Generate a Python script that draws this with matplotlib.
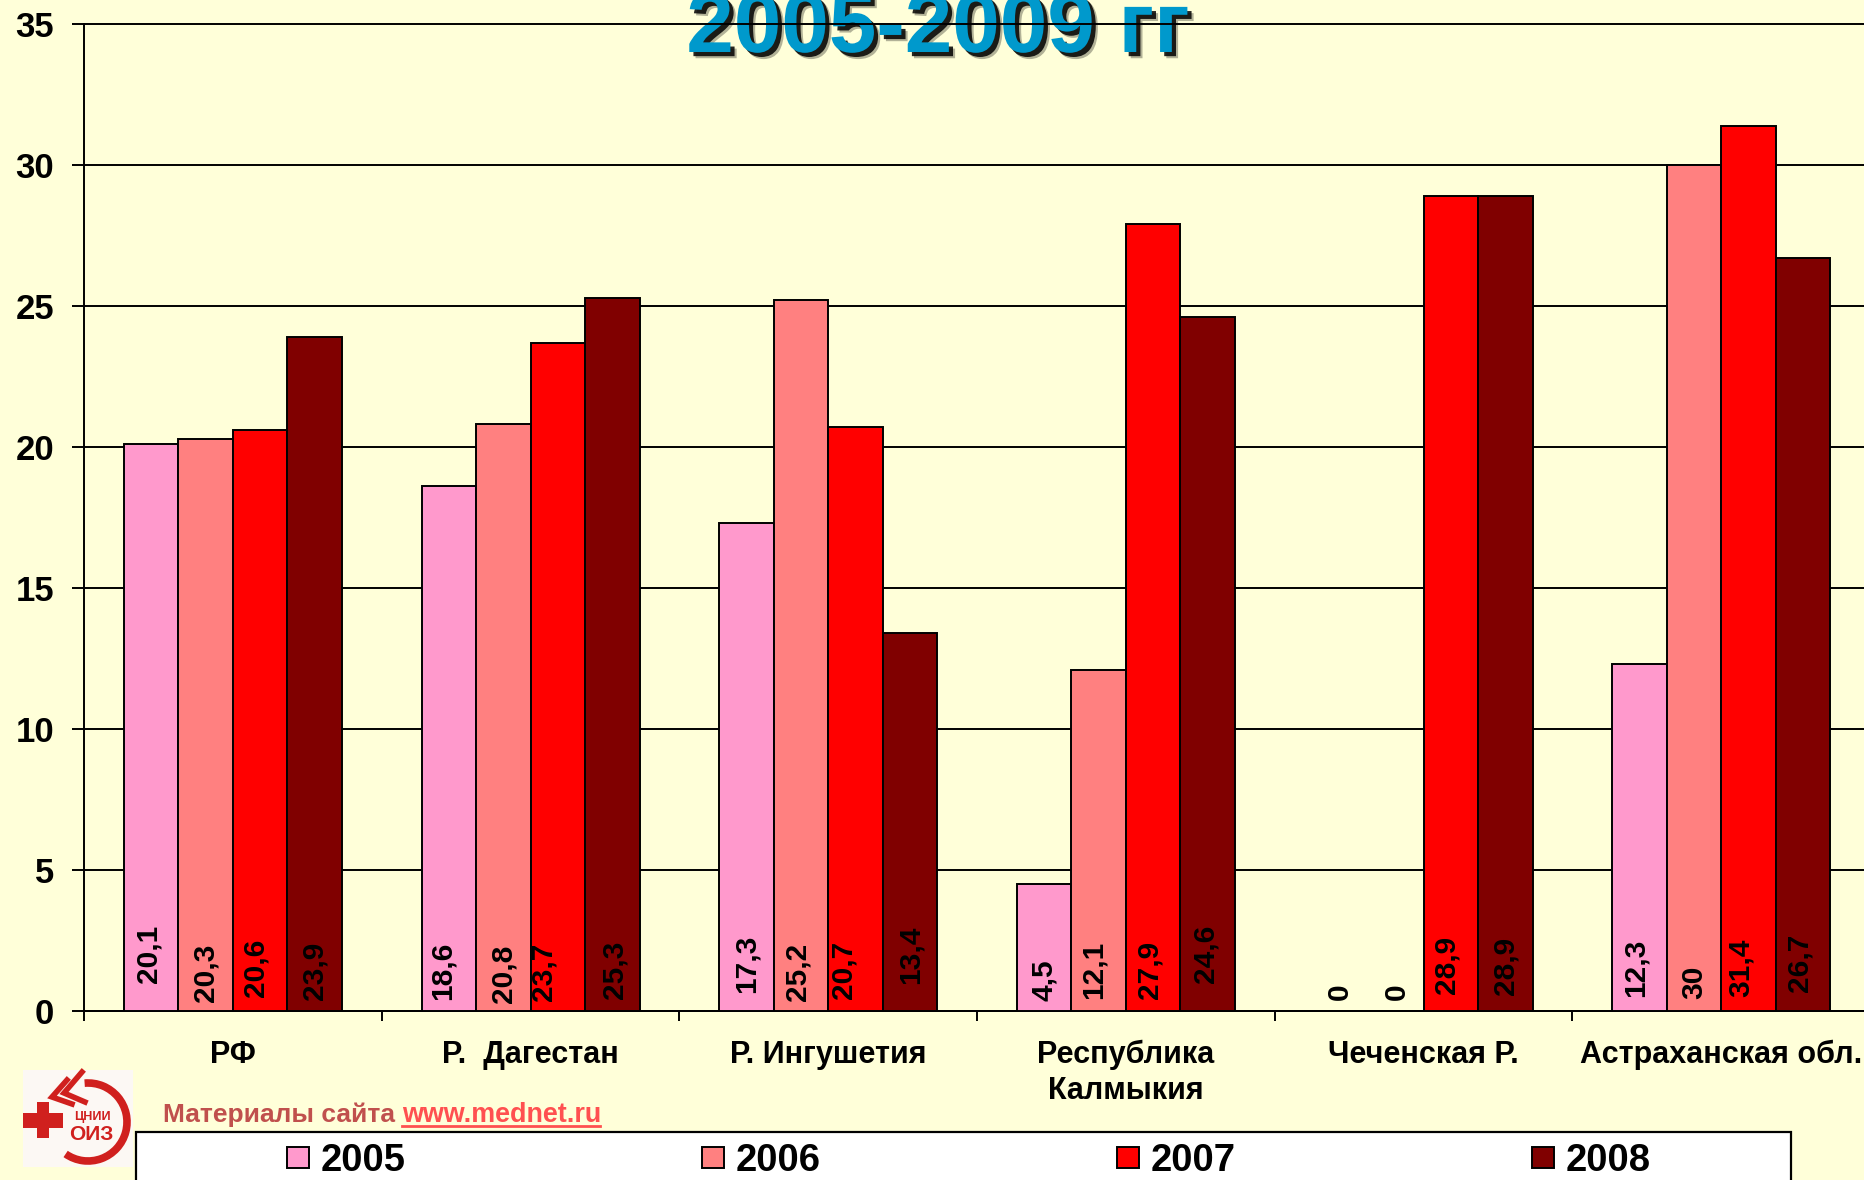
import matplotlib
matplotlib.use("Agg")
import matplotlib.pyplot as plt
import matplotlib.patheffects as pe
from matplotlib.patches import Arc, Rectangle
import numpy as np

plt.rcParams['font.family'] = ['Liberation Sans', 'DejaVu Sans']
plt.rcParams['font.weight'] = 'bold'

W, H = 1864, 1180
BG = '#FFFFD9'

categories = ['РФ', 'Р.  Дагестан', 'Р. Ингушетия', 'Республика\nКалмыкия', 'Чеченская Р.', 'Астраханская обл.']
years = ['2005', '2006', '2007', '2008']
v2005 = [20.1, 18.6, 17.3, 4.5, 0, 12.3]
v2006 = [20.3, 20.8, 25.2, 12.1, 0, 30]
v2007 = [20.6, 23.7, 20.7, 27.9, 28.9, 31.4]
v2008 = [23.9, 25.3, 13.4, 24.6, 28.9, 26.7]
colors = ['#FF99CC', '#FF8080', '#FF0000', '#800000']

# hand-moved data labels: pixel offset from bar centre / baseline
label_dx = [[-3, -6, 0, 0, -2, -4], [0, 0, -3, -5, 0, 0], [-5, -14, -12, -4, -4, -8], [0, 2, 1, -2, 0, -4]]
label_dy = [[28, 11, 18, 10, 11, 14], [9, 8, 10, 12, 11, 12], [14, 10, 12, 12, 17, 14], [11, 12, 27, 28, 16, 19]]

fig = plt.figure(figsize=(W / 100, H / 100), dpi=100, facecolor=BG)

# title sits under the top gridline
back = fig.add_axes([0, 0, 1, 1], zorder=-1)
back.set_xlim(0, W)
back.set_ylim(H, 0)
back.axis('off')
back.text(938, 52, '2005-2009 гг', ha='center', va='baseline', fontsize=61.5, color='#0099CC',
          path_effects=[pe.SimplePatchShadow(offset=(4.5, -4.5), shadow_rgbFace='k', alpha=0.3),
                        pe.SimplePatchShadow(offset=(3, -3), shadow_rgbFace='k', alpha=0.85),
                        pe.Normal()])

cat_w = 297.7
ax = fig.add_axes([84 / W, 1 - 1011 / H, 6 * cat_w / W, 987 / H], facecolor='none')
x = np.arange(6)
bar_w = 54.5 / cat_w
series = [v2005, v2006, v2007, v2008]
for i, vals in enumerate(series):
    pos = x + 0.5 + (i - 1.5) * bar_w
    ax.bar(pos, vals, bar_w, color=colors[i], edgecolor='black', linewidth=1.4, label=years[i], zorder=3)
    for j, v in enumerate(vals):
        ax.annotate(f"{v:g}".replace('.', ','), xy=(pos[j], 0), xytext=(label_dx[i][j], label_dy[i][j]),
                    textcoords='offset pixels', rotation=90, ha='center', va='bottom',
                    fontsize=21.5, color='black', zorder=4)

ax.set_xlim(0, 6)
ax.set_ylim(0, 35)
ax.set_yticks(range(0, 36, 5))
ax.grid(True, axis='y', color='black', linewidth=1.4, zorder=1)
for line in ax.get_ygridlines():
    line.set_clip_on(False)
ax.set_axisbelow(True)
ax.set_xticks(range(7))
ax.set_xticklabels([])
ax.set_xticks(x + 0.5, categories, minor=True, fontsize=22, linespacing=1.25)
ax.tick_params(axis='x', which='major', length=7, width=1.4)
ax.tick_params(axis='x', which='minor', length=0, pad=21)
ax.tick_params(axis='y', length=8.6, width=1.4, pad=13, labelsize=25)
for s in ['top', 'right']:
    ax.spines[s].set_visible(False)
for s in ['left', 'bottom']:
    ax.spines[s].set_linewidth(1.4)

# pixel-coordinate overlay for logo, site note and legend box
ov = fig.add_axes([0, 0, 1, 1], zorder=1)
ov.set_xlim(0, W)
ov.set_ylim(H, 0)
ov.axis('off')

RED = '#D0201E'
ov.add_patch(Rectangle((23, 1070), 110, 97, facecolor='#FCF8F4', edgecolor='none'))
ov.add_patch(Rectangle((23, 1113), 40, 15, facecolor=RED, edgecolor='none'))
ov.add_patch(Rectangle((37, 1102), 12, 36, facecolor=RED, edgecolor='none'))
ov.add_patch(Arc((88, 1122), 78, 78, theta1=-95, theta2=125, color=RED, linewidth=5.5))
ov.plot([82, 64, 85], [1072, 1093, 1102], color=RED, lw=4, solid_joinstyle='miter')
ov.plot([67, 52, 72], [1080, 1097, 1104], color=RED, lw=4, solid_joinstyle='miter')
ov.text(92, 1117, 'ЦНИИ', fontsize=9, color=RED, ha='center', va='center')
ov.text(91, 1134, 'ОИЗ', fontsize=15, color=RED, ha='center', va='center')

ov.text(163, 1122, 'Материалы сайта', fontsize=19, color='#C0504D', va='baseline')
ov.text(402, 1122, 'www.mednet.ru', fontsize=19.4, color='#FF5050', va='baseline')
ov.plot([402, 600], [1126, 1126], color='#FF5050', lw=2)

ov.add_patch(Rectangle((136, 1132), 1655, 60, facecolor='white', edgecolor='black', linewidth=1.6))

handles, labels = ax.get_legend_handles_labels()
fig.legend(handles, labels, loc='upper left', bbox_to_anchor=(287 / W, 1 - 1143 / H), ncols=4,
           frameon=False, borderaxespad=0, borderpad=0, fontsize=27.5, handlelength=0.58, handleheight=0.5,
           handletextpad=0.31, columnspacing=7.75)

fig.savefig('out.png', dpi=100, facecolor=BG)
